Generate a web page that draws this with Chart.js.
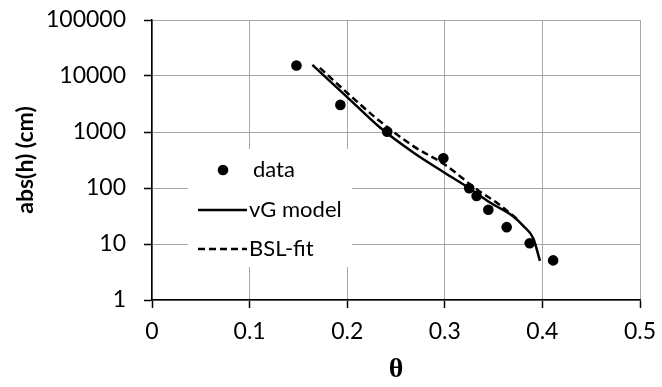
<!DOCTYPE html>
<html><head><meta charset="utf-8">
<script src="https://cdn.jsdelivr.net/npm/chart.js@4.4.1/dist/chart.umd.min.js"></script>
<style>html,body{margin:0;padding:0;background:#fff}#wrap{width:662px;height:387px}</style>
</head><body><div id="wrap"><canvas id="c" width="662" height="387"></canvas></div>
<script>
// measured data (theta, |h| in cm)
const dataTheta = [0.148, 0.193, 0.241, 0.2985, 0.325, 0.3326, 0.3446, 0.3634, 0.387, 0.411];
const dataH     = [15400, 3050, 1015, 340, 99, 72, 41, 20, 10.3, 5.1];
// van Genuchten model curve
const vgTheta = [0.1643, 0.2, 0.2336, 0.2677, 0.3002, 0.3251, 0.3463, 0.3702, 0.3804, 0.3907, 0.3975];
const vgH     = [15800, 4200, 1200, 430, 185, 99, 55, 31, 21, 12.6, 5];
// BSL fit curve
const bslTheta = [0.172, 0.2, 0.2336, 0.2677, 0.3002, 0.3326, 0.353, 0.3753];
const bslH     = [14000, 5000, 1550, 560, 260, 95, 55, 27];
// ticks
const xTicks = [0, 0.1, 0.2, 0.3, 0.4, 0.5];
const yTicks = [1, 10, 100, 1000, 10000, 100000];

const FAM = "Lato, 'Open Sans', sans-serif";
const pts = (xs, ys) => xs.map((x, i) => ({x: x, y: ys[i]}));

const insideLegend = {
  id: 'insideLegend',
  afterDatasetsDraw(chart) {
    const c = chart.ctx;
    const ds = chart.data.datasets;
    c.save();
    c.fillStyle = '#fff';
    c.fillRect(188, 149, 164, 118);
    const rows = [170, 210, 249];
    c.font = "22px " + FAM;
    c.textBaseline = 'middle';
    c.textAlign = 'left';
    ds.forEach((d, i) => {
      const y = rows[i];
      c.fillStyle = '#000';
      c.strokeStyle = '#000';
      if (d.showLine === false) {
        c.beginPath(); c.arc(223, y, 5.3, 0, Math.PI * 2); c.fill();
        c.fillText(d.label, 253, y);
      } else {
        c.lineWidth = d.borderWidth;
        c.setLineDash(d.borderDash || []);
        c.beginPath(); c.moveTo(198, y); c.lineTo(247, y); c.stroke();
        c.setLineDash([]);
        c.fillText(d.label, 249, y);
      }
    });
    c.restore();
  }
};

new Chart(document.getElementById('c'), {
  type: 'scatter',
  data: {
    datasets: [
      {label: 'data', data: pts(dataTheta, dataH), showLine: false, pointRadius: 5.3, pointHoverRadius: 5.3,
       pointBorderWidth: 0, backgroundColor: '#000', borderColor: '#000'},
      {label: 'vG model', data: pts(vgTheta, vgH), showLine: true, borderColor: '#000', borderWidth: 2.5,
       pointRadius: 0, cubicInterpolationMode: 'monotone'},
      {label: 'BSL-fit', data: pts(bslTheta, bslH), showLine: true, borderColor: '#000', borderWidth: 2.5,
       borderDash: [7, 4], pointRadius: 0, cubicInterpolationMode: 'monotone'}
    ]
  },
  options: {
    responsive: false, animation: false, events: [],
    layout: {padding: {top: 20, right: 22, left: 0, bottom: 0}},
    plugins: {legend: {display: false}, tooltip: {enabled: false}},
    scales: {
      x: {
        type: 'linear', min: 0, max: 0.5,
        afterBuildTicks: s => { s.ticks = xTicks.map(v => ({value: v})); },
        afterFit: s => { s.height = 87; s.paddingLeft = 0; s.paddingRight = 0; },
        ticks: {callback: v => String(v), font: {family: FAM, size: 23}, color: '#000', padding: 10, maxRotation: 0},
        grid: {color: '#a6a6a6', lineWidth: 1, tickLength: 8, tickColor: '#000', tickWidth: 1.5},
        border: {color: '#000', width: 1.5},
        title: {display: true, text: 'θ', font: {family: "'Liberation Serif', serif", size: 28, weight: 'bold'},
                color: '#000', padding: {top: 4, bottom: 0}}
      },
      y: {
        type: 'logarithmic', min: 1, max: 100000,
        afterBuildTicks: s => { s.ticks = yTicks.map(v => ({value: v})); },
        afterFit: s => { s.width = 152; s.paddingTop = 0; s.paddingBottom = 0; },
        ticks: {callback: v => String(v), font: {family: FAM, size: 23}, color: '#000', padding: 18},
        grid: {color: '#a6a6a6', lineWidth: 1, tickLength: 8, tickColor: '#000', tickWidth: 1.5},
        border: {color: '#000', width: 1.5},
        title: {display: true, text: 'abs(h) (cm)', font: {family: FAM, size: 23, weight: 'bold'},
                color: '#000', padding: {top: 12, bottom: 0}}
      }
    }
  },
  plugins: [insideLegend]
});
</script>
</body></html>
